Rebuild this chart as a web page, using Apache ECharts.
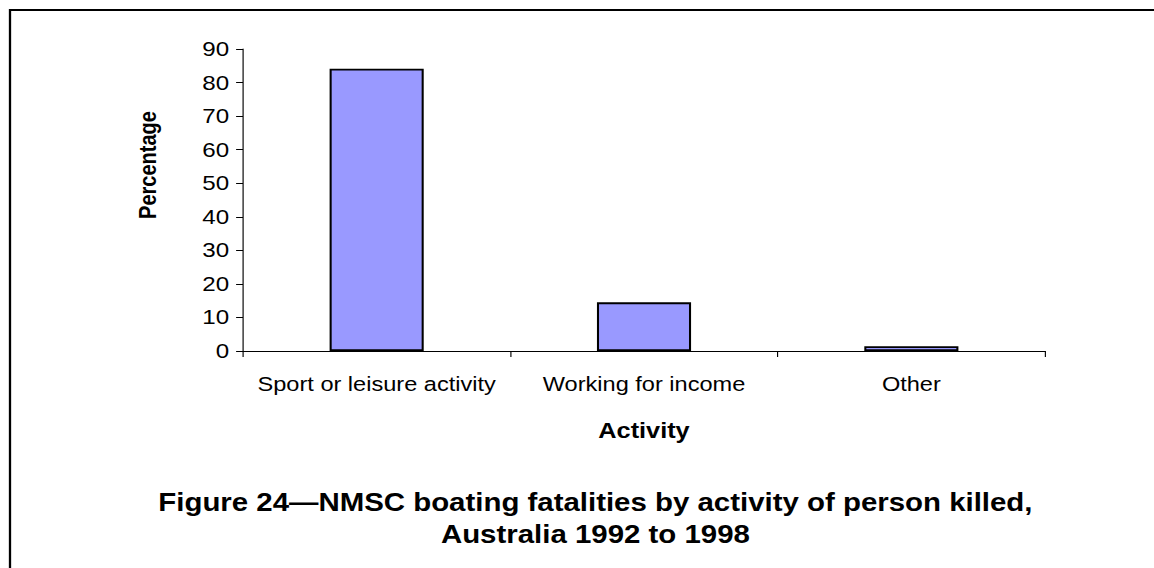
<!DOCTYPE html>
<html>
<head>
<meta charset="utf-8">
<title>NMSC boating fatalities by activity</title>
<script src="https://cdn.jsdelivr.net/npm/echarts@6/dist/echarts.min.js"></script>
<style>
  html, body { margin: 0; padding: 0; background: #fff; overflow: hidden; }
  /* The figure is laid out on a narrower canvas and widened to the page,
     which gives the broad, flat lettering of the original figure. */
  #chart {
    width: 1004px;
    height: 568px;
    transform: scaleX(1.1494);
    transform-origin: 0 0;
  }
</style>
</head>
<body>
<div id="chart"></div>
<script>
// Share of boating fatalities by the activity of the person killed
const categories = ['Sport or leisure activity', 'Working for income', 'Other'];
const percentages = [84.1, 14.5, 1.4];
const yTicks = { min: 0, max: 90, interval: 10 };

const titleLines = [
  'Figure 24\u2014NMSC boating fatalities by activity of person killed,',
  'Australia 1992 to 1998'
];
const xAxisName = 'Activity';
const yAxisName = 'Percentage';

const font = '"Liberation Sans", Arial, Helvetica, sans-serif';

const chart = echarts.init(document.getElementById('chart'), null, { renderer: 'svg' });

chart.setOption({
  backgroundColor: '#ffffff',
  animation: false,
  title: {
    text: titleLines.join('\n'),
    left: 513,
    textAlign: 'center',
    top: 481,
    textStyle: {
      fontFamily: font,
      fontWeight: 'bold',
      fontSize: 25.6,
      lineHeight: 32,
      color: '#000'
    }
  },
  graphic: [
    {
      // frame around the figure
      type: 'rect',
      silent: true,
      shape: { x: 8.7, y: 10, width: 1300, height: 700 },
      style: { fill: null, stroke: '#000', lineWidth: 2 }
    },
    {
      type: 'text',
      silent: true,
      x: 128.8,
      y: 165,
      rotation: Math.PI / 2,
      style: {
        text: yAxisName,
        fontFamily: font,
        fontWeight: 'bold',
        fontSize: 20,
        fill: '#000',
        align: 'center',
        verticalAlign: 'middle'
      }
    }
  ],
  grid: { left: 211.4, right: 94.8, top: 49, bottom: 217, containLabel: false },
  xAxis: {
    type: 'category',
    data: categories,
    boundaryGap: true,
    name: xAxisName,
    nameLocation: 'middle',
    nameGap: 69,
    nameTextStyle: { fontFamily: font, fontWeight: 'bold', fontSize: 22, color: '#000' },
    axisLine: { show: true, lineStyle: { color: '#000', width: 1 } },
    axisTick: { show: true, length: 6, alignWithLabel: false, lineStyle: { color: '#000', width: 1 } },
    axisLabel: { fontFamily: font, fontSize: 20.5, color: '#000', margin: 23, interval: 0 },
    splitLine: { show: false }
  },
  yAxis: {
    type: 'value',
    min: yTicks.min,
    max: yTicks.max,
    interval: yTicks.interval,
    axisLine: { show: true, lineStyle: { color: '#000', width: 1 } },
    axisTick: { show: true, length: 6, lineStyle: { color: '#000', width: 1 } },
    axisLabel: {
      fontFamily: font,
      fontSize: 21,
      color: '#000',
      margin: 12,
      verticalAlign: 'middle',
      padding: [11, 0, 0, 0]
    },
    splitLine: { show: false }
  },
  series: [
    {
      type: 'bar',
      data: percentages,
      barWidth: '35.2%',
      itemStyle: { color: '#9999FF', borderColor: '#000', borderWidth: 1.8 },
      label: { show: false }
    }
  ]
});
</script>
</body>
</html>
